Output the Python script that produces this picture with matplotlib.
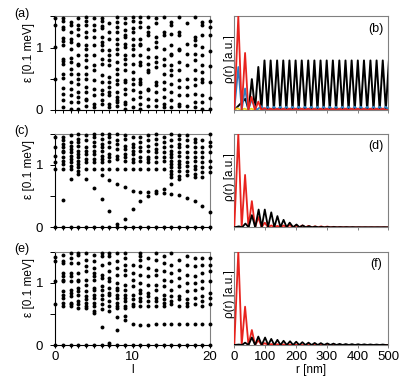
import matplotlib
matplotlib.use("Agg")
import matplotlib.pyplot as plt

plt.rcParams['font.family'] = ['Liberation Sans', 'DejaVu Sans']
FS = 9.5
FSL = 8.5

# ---------------- energy levels eps [0.1 meV] vs angular momentum l ----------------
levels_a = {
    0: [1.48, 1.36, 1.01, 0.50],
    1: [1.48, 1.42, 1.33, 1.30, 1.16, 1.10, 1.04, 0.82, 0.78, 0.73, 0.57, 0.51, 0.35, 0.26, 0.16, 0.05],
    2: [1.41, 1.36, 1.25, 1.14, 1.09, 0.98, 0.83, 0.77, 0.66, 0.58, 0.45, 0.34, 0.24, 0.13, 0.02],
    3: [1.48, 1.36, 1.30, 1.20, 1.06, 1.04, 0.88, 0.74, 0.72, 0.58, 0.50, 0.42, 0.29, 0.21, 0.13, 0.02],
    4: [1.49, 1.42, 1.36, 1.25, 1.17, 1.04, 0.98, 0.88, 0.80, 0.69, 0.58, 0.50, 0.37, 0.29, 0.18, 0.16, 0.07],
    5: [1.48, 1.36, 1.28, 1.17, 1.04, 0.88, 0.72, 0.64, 0.48, 0.34, 0.24, 0.10, 0.05],
    6: [1.47, 1.42, 1.35, 1.32, 1.17, 1.09, 1.04, 0.96, 0.82, 0.74, 0.56, 0.45, 0.32, 0.26, 0.16, 0.10],
    7: [1.39, 1.25, 1.14, 0.96, 0.88, 0.80, 0.72, 0.53, 0.45, 0.37, 0.29, 0.24, 0.10, 0.05],
    8: [1.49, 1.41, 1.33, 1.25, 1.14, 1.06, 0.98, 0.90, 0.77, 0.66, 0.58, 0.48, 0.42, 0.29, 0.21, 0.16, 0.13, 0.07],
    9: [1.47, 1.39, 1.28, 1.20, 1.17, 1.06, 1.01, 0.88, 0.82, 0.74, 0.64, 0.48, 0.45, 0.34, 0.26, 0.13, 0.10, 0.02],
    10: [1.49, 1.42, 1.32, 1.25, 1.14, 1.04, 0.98, 0.88, 0.74, 0.61, 0.50, 0.42, 0.32, 0.18, 0.05],
    11: [1.49, 1.41, 1.33, 1.14, 1.06, 1.04, 0.88, 0.77, 0.72, 0.50, 0.45, 0.42, 0.29, 0.21, 0.10, 0.02],
    12: [1.49, 1.33, 1.25, 1.20, 0.98, 0.85, 0.74, 0.64, 0.61, 0.34, 0.32, 0.18, 0.07],
    13: [1.47, 1.39, 1.17, 1.09, 1.01, 0.85, 0.77, 0.69, 0.45, 0.40, 0.29, 0.16, 0.07],
    14: [1.49, 1.25, 1.20, 0.98, 0.82, 0.72, 0.58, 0.45, 0.34, 0.21, 0.10, 0.05],
    15: [1.41, 1.36, 1.22, 1.04, 0.90, 0.88, 0.72, 0.64, 0.56, 0.42, 0.29, 0.16, 0.05],
    16: [1.49, 1.25, 1.20, 0.98, 0.96, 0.77, 0.64, 0.48, 0.37, 0.24, 0.10, 0.07],
    17: [1.39, 1.06, 0.90, 0.72, 0.50, 0.37, 0.24, 0.07],
    18: [1.49, 1.17, 1.12, 1.04, 0.90, 0.80, 0.64, 0.50, 0.40, 0.26, 0.13, 0.05],
    19: [1.41, 1.36, 1.20, 1.01, 0.88, 0.72, 0.61, 0.50, 0.45, 0.24, 0.13, 0.02],
    20: [1.42, 1.33, 1.20, 0.95, 0.70, 0.45, 0.20, 0.02],
}

levels_c = {
    0: [1.45, 1.29, 1.15, 1.04, 0.94, 0.0],
    1: [1.45, 1.40, 1.34, 1.29, 1.23, 1.21, 1.13, 1.07, 1.02, 0.94, 0.43, 0.0],
    2: [1.48, 1.37, 1.31, 1.26, 1.21, 1.15, 1.10, 1.04, 0.99, 0.94, 0.78, 0.0],
    3: [1.49, 1.42, 1.37, 1.31, 1.23, 1.18, 1.13, 1.07, 1.02, 0.96, 0.91, 0.85, 0.0],
    4: [1.48, 1.40, 1.29, 1.23, 1.18, 1.10, 1.04, 0.94, 0.77, 0.0],
    5: [1.49, 1.45, 1.37, 1.31, 1.23, 1.18, 1.10, 1.04, 0.94, 0.63, 0.0],
    6: [1.49, 1.42, 1.34, 1.29, 1.23, 1.15, 1.10, 1.04, 0.94, 0.84, 0.46, 0.0],
    7: [1.49, 1.45, 1.37, 1.29, 1.18, 1.13, 1.07, 0.94, 0.76, 0.26, 0.0],
    8: [1.49, 1.40, 1.34, 1.26, 1.15, 1.10, 0.94, 0.70, 0.06, 0.0],
    9: [1.48, 1.42, 1.31, 1.26, 1.18, 1.13, 1.07, 0.94, 0.64, 0.13, 0.0],
    10: [1.45, 1.34, 1.29, 1.23, 1.18, 1.10, 1.04, 0.94, 0.59, 0.30, 0.0],
    11: [1.45, 1.37, 1.29, 1.23, 1.13, 1.07, 0.94, 0.57, 0.42, 0.0],
    12: [1.48, 1.40, 1.31, 1.23, 1.13, 1.10, 1.04, 0.94, 0.56, 0.51, 0.0],
    13: [1.49, 1.42, 1.34, 1.26, 1.21, 1.13, 1.04, 0.94, 0.59, 0.55, 0.0],
    14: [1.45, 1.37, 1.29, 1.21, 1.13, 1.07, 0.94, 0.62, 0.55, 0.0],
    15: [1.49, 1.40, 1.31, 1.23, 1.18, 1.13, 1.07, 1.02, 0.96, 0.91, 0.85, 0.80, 0.69, 0.54, 0.0],
    16: [1.48, 1.42, 1.34, 1.29, 1.21, 1.15, 1.07, 1.02, 0.96, 0.91, 0.83, 0.77, 0.52, 0.0],
    17: [1.48, 1.40, 1.31, 1.21, 1.13, 1.04, 0.99, 0.91, 0.84, 0.47, 0.0],
    18: [1.42, 1.37, 1.29, 1.21, 1.13, 1.07, 0.99, 0.94, 0.85, 0.80, 0.42, 0.0],
    19: [1.40, 1.29, 1.21, 1.13, 1.04, 0.96, 0.88, 0.80, 0.34, 0.0],
    20: [1.49, 1.37, 1.31, 1.21, 1.07, 0.96, 0.88, 0.24, 0.0],
}

levels_e = {
    0: [1.41, 1.34, 1.02, 0.65, 0.0],
    1: [1.45, 1.34, 1.32, 1.16, 1.10, 1.05, 1.02, 0.86, 0.81, 0.75, 0.67, 0.62, 0.0],
    2: [1.48, 1.40, 1.32, 1.16, 1.10, 1.02, 0.89, 0.83, 0.78, 0.67, 0.65, 0.62, 0.0],
    3: [1.48, 1.45, 1.32, 1.16, 1.05, 1.02, 0.91, 0.86, 0.81, 0.70, 0.65, 0.59, 0.0],
    4: [1.48, 1.37, 1.26, 1.18, 1.05, 0.97, 0.86, 0.78, 0.73, 0.67, 0.62, 0.59, 0.0],
    5: [1.45, 1.34, 1.24, 1.16, 1.10, 1.05, 0.91, 0.89, 0.81, 0.75, 0.67, 0.62, 0.54, 0.51, 0.0],
    6: [1.48, 1.42, 1.29, 1.13, 1.07, 0.94, 0.89, 0.81, 0.73, 0.65, 0.57, 0.29, 0.0],
    7: [1.48, 1.42, 1.32, 1.18, 1.07, 1.02, 0.91, 0.83, 0.81, 0.70, 0.62, 0.54, 0.04, 0.0],
    8: [1.48, 1.34, 1.24, 1.13, 0.99, 0.91, 0.89, 0.81, 0.75, 0.67, 0.62, 0.59, 0.45, 0.24, 0.0],
    9: [1.48, 1.40, 1.29, 1.21, 1.13, 0.97, 0.89, 0.81, 0.75, 0.70, 0.62, 0.59, 0.47, 0.40, 0.0],
    10: [1.29, 1.16, 1.05, 0.94, 0.81, 0.73, 0.65, 0.62, 0.34, 0.0],
    11: [1.48, 1.42, 1.37, 1.26, 1.13, 0.99, 0.89, 0.83, 0.75, 0.70, 0.62, 0.32, 0.0],
    12: [1.40, 1.24, 1.10, 0.97, 0.83, 0.78, 0.70, 0.62, 0.32, 0.0],
    13: [1.48, 1.37, 1.21, 1.13, 0.97, 0.89, 0.75, 0.70, 0.62, 0.33, 0.0],
    14: [1.42, 1.32, 1.18, 1.05, 0.94, 0.81, 0.73, 0.67, 0.62, 0.33, 0.0],
    15: [1.48, 1.29, 1.16, 1.02, 0.89, 0.78, 0.70, 0.65, 0.33, 0.0],
    16: [1.37, 1.21, 1.07, 0.94, 0.78, 0.73, 0.62, 0.33, 0.0],
    17: [1.42, 1.29, 1.13, 0.99, 0.86, 0.73, 0.67, 0.62, 0.34, 0.0],
    18: [1.40, 1.26, 1.10, 0.99, 0.89, 0.75, 0.65, 0.34, 0.0],
    19: [1.40, 1.29, 1.16, 1.02, 0.91, 0.78, 0.70, 0.62, 0.34, 0.0],
    20: [1.40, 1.29, 1.18, 1.02, 0.83, 0.75, 0.65, 0.34, 0.0],
}

# ---------------- radial densities: peak positions r [nm] and peak heights ----------------
b_black_r = [36, 57, 78, 98, 118, 139, 159, 179, 199, 219, 240, 260, 280, 300, 320, 341, 361, 381, 401, 421, 442, 462, 482, 502]
b_black_h = [0.12, 0.33, 0.46, 0.53, 0.53, 0.53, 0.53, 0.53, 0.53, 0.53, 0.53, 0.53, 0.53, 0.53, 0.53, 0.53, 0.53, 0.53, 0.53, 0.53, 0.53, 0.53, 0.53, 0.53]
b_blue_r = [13, 35, 56, 88, 108, 129, 149, 169, 189, 209, 229, 250, 270, 290, 310, 330, 351, 371, 391, 411, 431, 452, 472, 492]
b_blue_h = [0.46, 0.23, 0.11, 0.04, 0.035, 0.035, 0.035, 0.035, 0.035, 0.035, 0.035, 0.035, 0.035, 0.035, 0.035, 0.035, 0.035, 0.035, 0.035, 0.035, 0.035, 0.035, 0.035, 0.035]
b_red_r = [13, 35, 56, 78, 98, 118, 139, 159, 179, 199, 219, 240, 260, 280, 300, 320, 341, 361, 381, 401, 421, 442, 462, 482]
b_red_h = [1.0, 0.61, 0.14, 0.09, 0.02, 0.015, 0.015, 0.015, 0.015, 0.015, 0.015, 0.015, 0.015, 0.015, 0.015, 0.015, 0.015, 0.015, 0.015, 0.015, 0.015, 0.015, 0.015, 0.015]
b_yellow_r = [10, 33, 55]
b_yellow_h = [0.02, 0.015, 0.015]

d_black_r = [15, 36, 57, 79, 99, 120, 140, 160, 180, 202, 222, 243, 263, 283, 303, 324, 344, 364, 384, 405, 425, 445, 465, 486]
d_black_h = [0.01, 0.04, 0.13, 0.19, 0.19, 0.16, 0.12, 0.08, 0.05, 0.03, 0.02, 0.012, 0.008, 0.005, 0.004, 0.003, 0.002, 0.002, 0.002, 0.001, 0.001, 0.001, 0.001, 0.001]
d_red_r = [13, 35, 57, 78, 99, 120, 140, 160, 180, 200, 221, 241, 262, 282, 302, 322, 343, 363]
d_red_h = [1.0, 0.56, 0.28, 0.11, 0.05, 0.02, 0.015, 0.02, 0.025, 0.02, 0.02, 0.015, 0.01, 0.01, 0.008, 0.005, 0.003, 0.002]

f_black_r = [15, 35, 57, 78, 100, 120, 140, 160, 181, 201, 221, 241, 261, 281, 302, 322, 342, 362, 382, 402, 422, 442, 462, 482]
f_black_h = [0.005, 0.025, 0.08, 0.09, 0.08, 0.065, 0.055, 0.045, 0.04, 0.035, 0.03, 0.025, 0.022, 0.02, 0.017, 0.015, 0.012, 0.01, 0.009, 0.008, 0.007, 0.006, 0.005, 0.005]
f_red_r = [13, 35, 57, 78, 99, 120, 140, 160, 180, 200]
f_red_h = [1.0, 0.41, 0.16, 0.05, 0.02, 0.01, 0.008, 0.006, 0.004, 0.002]

l_ticklabels = ['0', '10', '20']
r_ticks = [0, 100, 200, 300, 400, 500]

RED = '#e8231e'
BLUE = '#2a7fc4'
YELLOW = '#f2d21b'
GRAY = '#808080'


def zigzag(peaks, heights):
    xs, ys = [0.0], [0.0]
    for i, (p, h) in enumerate(zip(peaks, heights)):
        xs.append(p)
        ys.append(h)
        if i + 1 < len(peaks):
            xs.append((p + peaks[i + 1]) / 2.0)
            ys.append(0.0)
    xs.append(peaks[-1] + (peaks[-1] - peaks[-2]) / 2.0)
    ys.append(0.0)
    if xs[-1] < 500:
        xs.append(500.0)
        ys.append(0.0)
    return xs, ys


W, H = 415, 384
fig = plt.figure(figsize=(W / 100, H / 100), dpi=100)

lefts = (55 / W, 234.3 / W)
widths = (155 / W, 154 / W)
bottoms = (1 - 110 / H, 1 - 227.3 / H, 1 - 345 / H)
height = 93.5 / H

left_data = [levels_a, levels_c, levels_e]
left_tags = ['(a)', '(c)', '(e)']
right_tags = ['(b)', '(d)', '(f)']

for row in range(3):
    # ---- left: spectrum ----
    ax = fig.add_axes([lefts[0], bottoms[row], widths[0], height])
    for l, vals in left_data[row].items():
        ax.plot([l] * len(vals), vals, 'o', color='black', ms=2.8, mew=0,
                clip_on=False, zorder=3)
    ax.set_xlim(0, 20)
    ax.set_ylim(0, 1.5)
    ax.set_xticks([0, 10, 20])
    ax.set_xticks(range(21), minor=True)
    ax.set_yticks([0, 0.5, 1, 1.5])
    ax.set_yticklabels(['0', '', '1', ''], fontsize=FS)
    ax.tick_params(axis='y', direction='out', length=3.5, width=0.7, pad=5)
    ax.tick_params(axis='x', which='both', direction='out', length=2.5, width=0.7, pad=1.5)
    if row == 2:
        ax.set_xticklabels(l_ticklabels, fontsize=FS)
    else:
        ax.set_xticklabels([])
    for s in ('top', 'right'):
        ax.spines[s].set_color(GRAY)
        ax.spines[s].set_linewidth(0.8)
    for s in ('left', 'bottom'):
        ax.spines[s].set_color('black')
        ax.spines[s].set_linewidth(0.8)
    ax.set_ylabel('ε [0.1 meV]', fontsize=FSL)
    ax.yaxis.set_label_coords(-0.13, 0.62)
    ax.text(-0.213, 1.03, left_tags[row], transform=ax.transAxes,
            fontsize=9, ha='center', va='center')

    # ---- right: radial density ----
    axr = fig.add_axes([lefts[1], bottoms[row], widths[1], height])
    if row == 0:
        x, y = zigzag(b_black_r, b_black_h)
        axr.plot(x, y, color='black', lw=1.4, zorder=2)
        x, y = zigzag(b_yellow_r, b_yellow_h)
        axr.plot(x, y, color=YELLOW, lw=1.2, zorder=3)
        x, y = zigzag(b_blue_r, b_blue_h)
        axr.plot(x, y, color=BLUE, lw=1.3, zorder=4)
        x, y = zigzag(b_red_r, b_red_h)
        axr.plot(x, y, color=RED, lw=1.3, zorder=5)
    elif row == 1:
        x, y = zigzag(d_red_r, d_red_h)
        axr.plot(x, y, color=RED, lw=1.3, zorder=3)
        x, y = zigzag(d_black_r, d_black_h)
        axr.plot(x, y, color='black', lw=1.3, zorder=4)
    else:
        x, y = zigzag(f_red_r, f_red_h)
        axr.plot(x, y, color=RED, lw=1.3, zorder=3)
        x, y = zigzag(f_black_r, f_black_h)
        axr.plot(x, y, color='black', lw=1.3, zorder=4)
    axr.set_xlim(0, 500)
    axr.set_ylim(0, 1.0)
    axr.set_yticks([])
    axr.set_xticks(r_ticks)
    axr.tick_params(axis='x', direction='out', length=2.5, width=0.7, pad=1.5,
                    color=GRAY)
    if row == 2:
        axr.set_xticklabels([str(t) for t in r_ticks], fontsize=FS)
    else:
        axr.set_xticklabels([])
    for s in axr.spines.values():
        s.set_color(GRAY)
        s.set_linewidth(0.8)
    axr.set_ylabel('ρ(r) [a.u.]', fontsize=FSL)
    axr.yaxis.set_label_coords(0.008, 0.54)
    axr.text(0.92, 0.87, right_tags[row], transform=axr.transAxes,
             fontsize=9, ha='center', va='center')

fig.text(132.5 / W, 1 - 370 / H, 'l', fontsize=FSL, ha='center', va='center')
fig.text(311 / W, 1 - 370 / H, 'r [nm]', fontsize=FSL, ha='center', va='center')

fig.savefig('out.png', dpi=100)
